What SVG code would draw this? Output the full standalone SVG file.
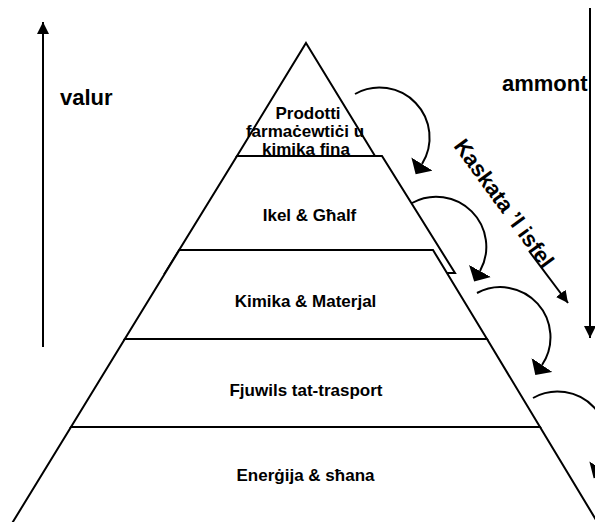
<svg xmlns="http://www.w3.org/2000/svg" width="595" height="522" viewBox="0 0 595 522">
  <defs>
    <style>
      .layer { fill: #ffffff; stroke: #000000; stroke-width: 2; stroke-linejoin: miter; }
      .lbl { font-family: "Liberation Sans", Arial, sans-serif; font-weight: bold; font-size: 17px; fill: #000000; text-anchor: middle; }
      .big { font-family: "Liberation Sans", Arial, sans-serif; font-weight: bold; font-size: 22px; fill: #000000; }
      .conn { fill: none; stroke: #000000; stroke-width: 2; }
    </style>
    <marker id="head" markerUnits="userSpaceOnUse" markerWidth="12" markerHeight="12" refX="12" refY="6" orient="auto">
      <path d="M0,0 L12,6 L0,12 z" fill="#000000"/>
    </marker>
    <marker id="curvehead" markerUnits="userSpaceOnUse" markerWidth="13" markerHeight="26" refX="0" refY="12.5" orient="auto">
      <path d="M0,0 L12,12.5 L0,25 z" fill="#000000"/>
    </marker>
  </defs>
  <rect x="0" y="0" width="595" height="522" fill="#ffffff"/>

  <g id="layer1">
    <polygon class="layer" points="306,43 375,156 237,156"/>
    <text class="lbl" x="308" y="119">Prodotti</text>
    <text class="lbl" x="305" y="137">farmaċewtiċi u</text>
    <text class="lbl" x="306" y="155">kimika fina</text>
  </g>
  <g id="layer2">
    <polygon class="layer" points="237,156 382,156 455,273 165,273"/>
    <text class="lbl" x="309.5" y="221">Ikel &amp; Għalf</text>
  </g>
  <g id="layer3">
    <polygon class="layer" points="179.3,250 433,250 487,339 124.8,339"/>
    <text class="lbl" x="305.5" y="307">Kimika &amp; Materjal</text>
  </g>
  <g id="layer4">
    <polygon class="layer" points="124.8,339 487,339 540,427 71,427"/>
    <text class="lbl" x="306" y="396">Fjuwils tat-trasport</text>
  </g>
  <g id="layer5">
    <polygon class="layer" points="71,427 540,427 598.5,524 11.6,524"/>
    <text class="lbl" x="305.5" y="481">Enerġija &amp; sħana</text>
  </g>

  <g id="valur">
    <text class="big" x="60" y="105">valur</text>
  </g>
  <g id="ammont">
    <text class="big" x="502" y="91">ammont</text>
  </g>
  <g id="kaskata">
    <text class="big" transform="translate(453,146) rotate(54)" x="0" y="0">Kaskata ’l isfel</text>
  </g>

  <g id="connectors">
    <line class="conn" x1="43" y1="347" x2="43" y2="22" marker-end="url(#head)"/>
    <line class="conn" x1="590" y1="8" x2="590" y2="338" marker-end="url(#head)"/>
    <line class="conn" x1="529" y1="251" x2="568" y2="303" marker-end="url(#head)"/>
    <path class="conn" d="M355,94 A50,50 0 0 1 422,164" marker-end="url(#curvehead)"/>
    <path class="conn" d="M412,203 A50,50 0 0 1 480,271" marker-end="url(#curvehead)"/>
    <path class="conn" d="M477,293 A50,50 0 0 1 542,365" marker-end="url(#curvehead)"/>
    <path class="conn" d="M533,398 A50,50 0 0 1 600,468" marker-end="url(#curvehead)"/>
  </g>
</svg>
